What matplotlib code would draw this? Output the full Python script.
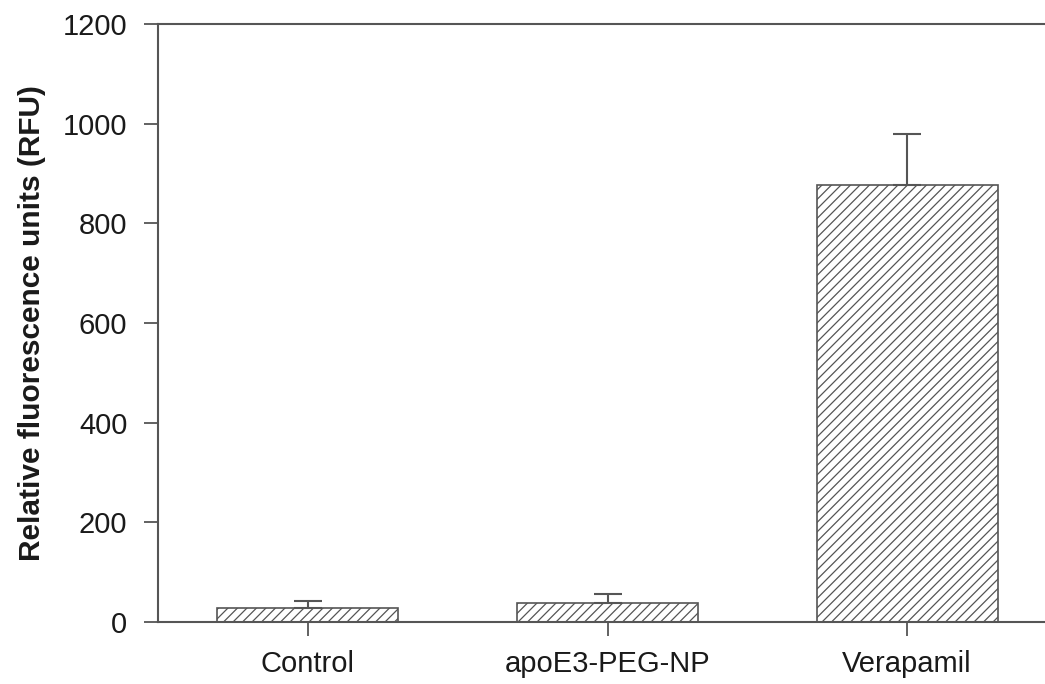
import matplotlib
matplotlib.use("Agg")
import matplotlib.pyplot as plt

categories = ["Control", "apoE3-PEG-NP", "Verapamil"]
values = [28, 38, 877]
errors = [14, 18, 102]
yticks = [0, 200, 400, 600, 800, 1000, 1200]

DPI = 114
s = 100.0 / DPI  # keep sizes as designed at 100 dpi

plt.rcParams['font.family'] = ['Liberation Sans', 'DejaVu Sans']
plt.rcParams['hatch.linewidth'] = 0.9 * s
plt.rcParams['hatch.color'] = '#5a5a5a'

W, H = 1045, 684
fig = plt.figure(figsize=(W / DPI, H / DPI), dpi=DPI)
left, right, top, bottom = 158, 1057, 24, 622
ax = fig.add_axes([left / W, 1 - bottom / H, (right - left) / W, (bottom - top) / H])

lc = '#555555'
x = list(range(len(categories)))
ax.bar(x, values, width=0.605, color='white', edgecolor=lc, linewidth=1.2 * s,
       hatch='////', zorder=2)
ax.errorbar(x, values, yerr=[[0] * len(errors), errors], fmt='none',
            ecolor=lc, elinewidth=1.5 * s, capsize=10 * s, capthick=1.5 * s,
            zorder=3)

ax.set_xlim(-0.5, 2.5)
ax.set_ylim(0, 1200)
ax.set_yticks(yticks)
ax.set_yticklabels([str(t) for t in yticks])
ax.set_xticks(x)
ax.set_xticklabels(categories)

for sp in ['left', 'top', 'bottom']:
    ax.spines[sp].set_color(lc)
    ax.spines[sp].set_linewidth(1.5 * s)
ax.spines['right'].set_visible(False)

ax.tick_params(axis='both', direction='out', length=10 * s, width=1.3 * s,
               color=lc, labelsize=21 * s, labelcolor='#1a1a1a')
ax.tick_params(axis='y', pad=12 * s)
ax.tick_params(axis='x', pad=10 * s)

ax.set_ylabel("Relative fluorescence units (RFU)", fontsize=21.5 * s,
              fontweight='bold', color='#1a1a1a', labelpad=12 * s)

fig.savefig("out.png", dpi=DPI)
